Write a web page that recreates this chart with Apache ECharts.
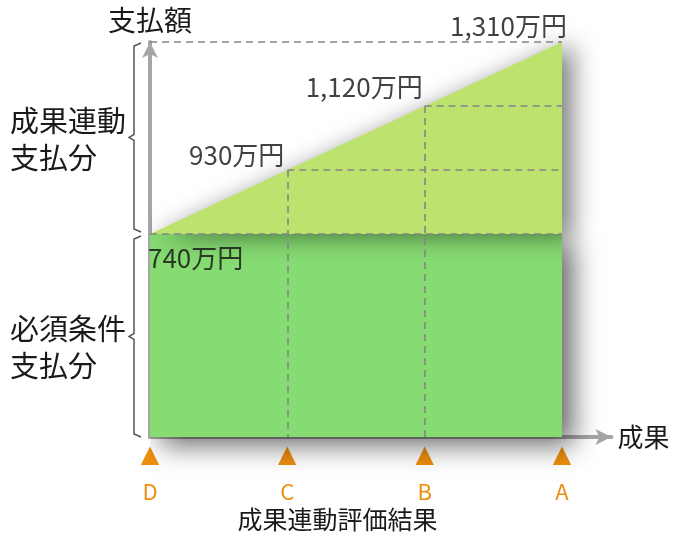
<!DOCTYPE html>
<html>
<head>
<meta charset="utf-8">
<script src="https://cdn.jsdelivr.net/npm/echarts@6/dist/echarts.min.js"></script>
<style>
html,body{margin:0;padding:0;background:#fff;}
#chart{width:675px;height:533px;}
</style>
</head>
<body>
<div id="chart"></div>
<script>
// ---- data ----
const categories = ['D', 'C', 'B', 'A'];
const payments = [740, 930, 1120, 1310];      // 万円
const basePayment = 740;                      // 必須条件支払分
const yAxisName = '支払額';
const xAxisName = '成果';
const xAxisTitle = '成果連動評価結果';
const upperBraceLabel = '成果連動\n支払分';
const lowerBraceLabel = '必須条件\n支払分';
const unit = '万円';

// ---- layout / style settings ----
const FONT = '"Noto Sans CJK JP", "Noto Sans", sans-serif';
const Y_MIN = 137;
const X_MAX = 3.36;
const ORANGE = '#EE8E0E';
const AXIS_GREY = '#a6a6a6';
const DASH_GREY = '#858585';
const labelPlacement = [
  {align: 'left',  offset: [-2, 24]},
  {align: 'right', offset: [-3, -15]},
  {align: 'right', offset: [-2, -19]},
  {align: 'right', offset: [5, -16]}
];

const chart = echarts.init(document.getElementById('chart'), null, {renderer: 'canvas'});

const baseData = categories.map((c, i) => [i, basePayment]);
const payData = categories.map((c, i) => [i, payments[i]]);
const pointData = categories.map((c, i) => ({
  value: [i, payments[i]],
  label: {align: labelPlacement[i].align, offset: labelPlacement[i].offset}
}));

const last = categories.length - 1;
const dashLines = [];
payments.forEach((p, i) => {
  if (i === 0 || i === last) {
    dashLines.push([{coord: [0, p]}, {coord: [last, p]}]);
  } else {
    dashLines.push([{coord: [i, p]}, {coord: [last, p]}]);
    dashLines.push([{coord: [i, p]}, {coord: [i, Y_MIN]}]);
  }
});

const shadowBase = {shadowBlur: 26, shadowColor: 'rgba(0,0,0,0.6)', shadowOffsetX: 11, shadowOffsetY: 8};
const shadowTop = {shadowBlur: 24, shadowColor: 'rgba(0,0,0,0.5)', shadowOffsetX: 11, shadowOffsetY: 2};

chart.setOption({
  animation: false,
  textStyle: {fontFamily: FONT},
  title: {
    text: xAxisTitle, left: 'center', top: 502,
    textStyle: {fontFamily: FONT, fontSize: 25, fontWeight: 'normal', color: '#1a1a1a'}
  },
  grid: {left: 150, right: 63.6, top: 42, bottom: 96},
  xAxis: {
    type: 'value', min: 0, max: X_MAX, interval: 1,
    splitLine: {show: false},
    axisTick: {show: false},
    axisLine: {
      onZero: false,
      symbol: ['none', 'arrow'], symbolSize: [12, 16],
      lineStyle: {color: AXIS_GREY, width: 4}
    },
    axisLabel: {
      margin: 6,
      formatter: v => (Number.isInteger(v) && v <= last) ? `{t|▲}\n{l|${categories[v]}}` : '',
      rich: {
        t: {color: ORANGE, fontSize: 24, lineHeight: 26, fontFamily: 'DejaVu Sans'},
        l: {color: ORANGE, fontSize: 22, lineHeight: 46, fontFamily: FONT}
      }
    },
    name: xAxisName, nameLocation: 'end', nameGap: 6,
    nameTextStyle: {fontSize: 26, color: '#1a1a1a', fontFamily: FONT, verticalAlign: 'middle'}
  },
  yAxis: {
    type: 'value', min: Y_MIN, max: payments[last],
    splitLine: {show: false},
    axisTick: {show: false},
    axisLabel: {show: false},
    axisLine: {
      symbol: ['none', 'arrow'], symbolSize: [12, 16],
      lineStyle: {color: AXIS_GREY, width: 4}
    },
    name: yAxisName, nameLocation: 'end', nameGap: 8,
    nameTextStyle: {fontSize: 28, color: '#1a1a1a', fontFamily: FONT, align: 'center'}
  },
  series: [
    {
      type: 'line', data: baseData, symbol: 'none', z: 2, clip: false,
      lineStyle: {width: 0},
      areaStyle: Object.assign({color: '#86DB72', opacity: 1}, shadowBase)
    },
    {
      type: 'line', data: payData, symbol: 'none', z: 2, clip: false,
      lineStyle: {width: 0},
      areaStyle: Object.assign({color: '#BEE26E', opacity: 1, origin: basePayment}, shadowTop)
    },
    {
      type: 'scatter', data: pointData, symbolSize: 1, z: 5,
      itemStyle: {color: 'rgba(0,0,0,0)'},
      label: {
        show: true, position: 'inside', verticalAlign: 'middle',
        fontSize: 26, color: '#111', fontFamily: FONT, textBorderWidth: 0,
        formatter: p => p.value[1].toLocaleString('en-US') + unit
      },
      markLine: {
        silent: true, symbol: 'none', animation: false,
        label: {show: false},
        lineStyle: {color: DASH_GREY, type: [7, 5], width: 1.6},
        data: dashLines
      }
    }
  ]
});

// braces and side labels
function brace(yTop, yBot) {
  const x = chart.convertToPixel({gridIndex: 0}, [0, Y_MIN])[0] - 16;
  const mid = (yTop + yBot) / 2;
  return {
    type: 'polyline', silent: true, z: 10,
    shape: {points: [[x + 7, yTop], [x, yTop + 3], [x, mid - 3], [x - 5, mid], [x, mid + 3], [x, yBot - 3], [x + 7, yBot]]},
    style: {stroke: '#555', lineWidth: 1.5, fill: null}
  };
}
const yTopPx = chart.convertToPixel({gridIndex: 0}, [0, payments[last]])[1];
const yBasePx = chart.convertToPixel({gridIndex: 0}, [0, basePayment])[1];
const yMinPx = chart.convertToPixel({gridIndex: 0}, [0, Y_MIN])[1];

chart.setOption({
  graphic: [
    brace(yTopPx + 1, yBasePx - 2),
    brace(yBasePx + 2, yMinPx),
    {type: 'text', left: 10, top: 102, z: 10,
     style: {text: upperBraceLabel, font: '29px ' + FONT, lineHeight: 37, fill: '#1a1a1a'}},
    {type: 'text', left: 10, top: 310, z: 10,
     style: {text: lowerBraceLabel, font: '29px ' + FONT, lineHeight: 37, fill: '#1a1a1a'}}
  ]
});
</script>
</body>
</html>
